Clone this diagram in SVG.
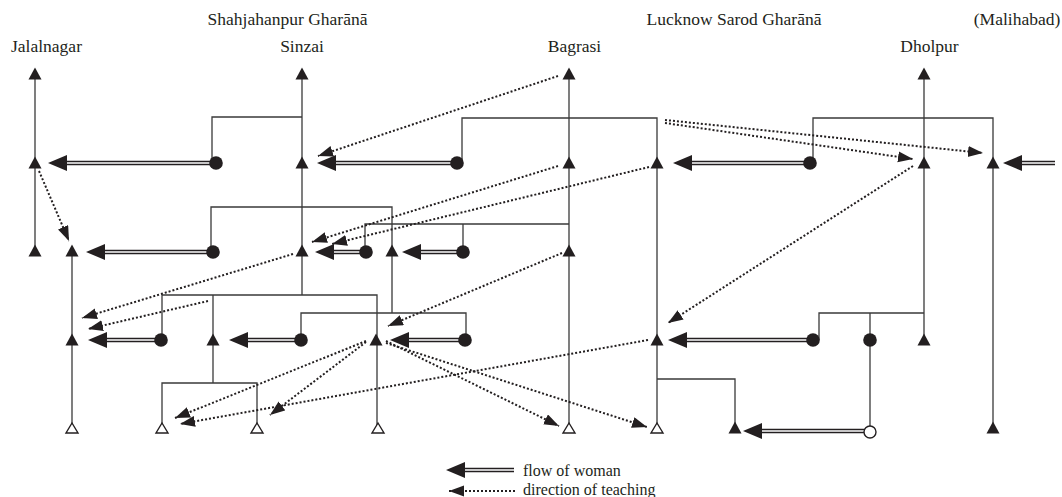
<svg xmlns="http://www.w3.org/2000/svg" width="1062" height="497" viewBox="0 0 1062 497">
<style>
.ln{stroke:#3a3a3a;stroke-width:1.3;fill:none}
.dt{stroke:#231f20;stroke-width:2;stroke-dasharray:2 2;fill:none;marker-end:url(#ah)}
.dbo{stroke:#231f20;stroke-width:4.4;fill:none}
.dbi{stroke:#fff;stroke-width:1.5;fill:none}
.f{fill:#231f20}
.o{fill:#fff;stroke:#231f20;stroke-width:1.4}
text{font-family:"Liberation Serif","Times New Roman",serif;fill:#231f20}
.h{font-size:17.5px;text-anchor:middle}
.lg{font-size:16px}
</style>
<defs>
<marker id="ah" markerUnits="userSpaceOnUse" markerWidth="16" markerHeight="12" viewBox="0 0 16 12" refX="15" refY="5.5" orient="auto"><path d="M0,0 L15,5.5 L0,11 z" fill="#231f20"/></marker>
<path id="tri" d="M0,-6.5 L6.5,5.5 L-6.5,5.5 z"/>
<path id="otri" d="M0,-5 L6,5 L-6,5 z"/>
<path id="head" d="M0,0 L19,-8 L19,8 z"/>
</defs>
<g id="labels">
<text class="h" x="287.5" y="25">Shahjahanpur Gharānā</text>
<text class="h" x="734" y="25">Lucknow Sarod Gharānā</text>
<text class="h" x="1017" y="25">(Malihabad)</text>
<text class="h" x="46.5" y="52">Jalalnagar</text>
<text class="h" x="302" y="52">Sinzai</text>
<text class="h" x="574.5" y="52">Bagrasi</text>
<text class="h" x="929.5" y="52">Dholpur</text>
</g>
<g id="connectors">
<g id="descent">
<path class="ln" d="M35,74 V251"/>
<path class="ln" d="M72,251 V428"/>
<path class="ln" d="M302,74 V295"/>
<path class="ln" d="M212,163 V117 H302"/>
<path class="ln" d="M211,252 V207 H392 V313"/>
<path class="ln" d="M162,340 V295 H377 V428"/>
<path class="ln" d="M213,295 V383"/>
<path class="ln" d="M162,428 V383 H257 V428"/>
<path class="ln" d="M301,340 V313 H466 V340"/>
<path class="ln" d="M569,74 V428"/>
<path class="ln" d="M462,163 V118 H657 V428"/>
<path class="ln" d="M365,252 V224 H569"/>
<path class="ln" d="M463,252 V224"/>
<path class="ln" d="M657,379 H735 V428"/>
<path class="ln" d="M924,74 V340"/>
<path class="ln" d="M813,163 V118 H993 V428"/>
<path class="ln" d="M819,340 V313 H924"/>
<path class="ln" d="M870,313 V432"/>
</g>
<g id="woman-flow">
<path class="dbo" d="M66,163 H216"/><path class="dbi" d="M67,163 H216"/><use href="#head" x="48" y="163" class="f"/>
<path class="dbo" d="M335,163 H457"/><path class="dbi" d="M336,163 H457"/><use href="#head" x="317" y="163" class="f"/>
<path class="dbo" d="M691,163 H810"/><path class="dbi" d="M692,163 H810"/><use href="#head" x="673" y="163" class="f"/>
<path class="dbo" d="M1021,163 H1055"/><path class="dbi" d="M1022,163 H1055"/><use href="#head" x="1003" y="163" class="f"/>
<path class="dbo" d="M104,252 H213"/><path class="dbi" d="M105,252 H213"/><use href="#head" x="86" y="252" class="f"/>
<path class="dbo" d="M333,252 H366"/><path class="dbi" d="M334,252 H366"/><use href="#head" x="315" y="252" class="f"/>
<path class="dbo" d="M420,252 H463"/><path class="dbi" d="M421,252 H463"/><use href="#head" x="402" y="252" class="f"/>
<path class="dbo" d="M106,340 H161"/><path class="dbi" d="M107,340 H161"/><use href="#head" x="88" y="340" class="f"/>
<path class="dbo" d="M247,340 H301"/><path class="dbi" d="M248,340 H301"/><use href="#head" x="229" y="340" class="f"/>
<path class="dbo" d="M408,340 H465"/><path class="dbi" d="M409,340 H465"/><use href="#head" x="390" y="340" class="f"/>
<path class="dbo" d="M686,340 H813"/><path class="dbi" d="M687,340 H813"/><use href="#head" x="668" y="340" class="f"/>
<path class="dbo" d="M761,431 H870"/><path class="dbi" d="M762,431 H870"/><use href="#head" x="743" y="431" class="f"/>
</g>
<g id="teaching">
<path class="dt" d="M558,76 L318,156"/>
<path class="dt" d="M39,171 L69,241"/>
<path class="dt" d="M558,166 L312,242"/>
<path class="dt" d="M649,167 L332,244"/>
<path class="dt" d="M665,120 L983,153"/>
<path class="dt" d="M665,123 L913,159"/>
<path class="dt" d="M913,166 L668,323"/>
<path class="dt" d="M293,254 L82,318"/>
<path class="dt" d="M208,301 L88,329"/>
<path class="dt" d="M562,253 L388,326"/>
<path class="dt" d="M366,341 L175,418"/>
<path class="dt" d="M366,342 L270,415"/>
<path class="dt" d="M386,341 L559,426"/>
<path class="dt" d="M386,343 L647,427"/>
<path class="dt" d="M648,340 L180,424"/>
</g>
</g>
<g id="nodes">
<g id="jal-0"><use href="#tri" x="35" y="74" class="f"/></g>
<g id="jal-1"><use href="#tri" x="35" y="163" class="f"/></g>
<g id="jal-2"><use href="#tri" x="35" y="251" class="f"/></g>
<g id="jalb-2"><use href="#tri" x="72" y="251" class="f"/></g>
<g id="jalb-3"><use href="#tri" x="72" y="340" class="f"/></g>
<g id="jalb-4"><use href="#otri" x="72" y="428" class="o"/></g>
<g id="sin-0"><use href="#tri" x="302" y="74" class="f"/></g>
<g id="sin-1"><use href="#tri" x="302" y="163" class="f"/></g>
<g id="sin-2"><use href="#tri" x="302" y="251" class="f"/></g>
<g id="sin-2b"><use href="#tri" x="392" y="251" class="f"/></g>
<g id="sin-3a"><use href="#tri" x="213" y="340" class="f"/></g>
<g id="sin-3b"><use href="#tri" x="376" y="340" class="f"/></g>
<g id="sin-4a"><use href="#otri" x="162" y="428" class="o"/></g>
<g id="sin-4b"><use href="#otri" x="257" y="428" class="o"/></g>
<g id="sin-4c"><use href="#otri" x="378" y="428" class="o"/></g>
<g id="bag-0"><use href="#tri" x="569" y="74" class="f"/></g>
<g id="bag-1"><use href="#tri" x="569" y="163" class="f"/></g>
<g id="bag-2"><use href="#tri" x="569" y="251" class="f"/></g>
<g id="bag-4"><use href="#otri" x="569" y="428" class="o"/></g>
<g id="luc-1"><use href="#tri" x="657" y="163" class="f"/></g>
<g id="luc-3"><use href="#tri" x="657" y="340" class="f"/></g>
<g id="luc-4"><use href="#otri" x="657" y="428" class="o"/></g>
<g id="luc-4b"><use href="#tri" x="735" y="428" class="f"/></g>
<g id="dho-0"><use href="#tri" x="924" y="74" class="f"/></g>
<g id="dho-1"><use href="#tri" x="924" y="163" class="f"/></g>
<g id="dho-3"><use href="#tri" x="924" y="340" class="f"/></g>
<g id="mal-1"><use href="#tri" x="993" y="163" class="f"/></g>
<g id="mal-4"><use href="#tri" x="993" y="428" class="f"/></g>
<g id="w-1a"><circle cx="216" cy="163" r="6.8" class="f"/></g>
<g id="w-1b"><circle cx="457" cy="163" r="6.8" class="f"/></g>
<g id="w-1c"><circle cx="810" cy="163" r="6.8" class="f"/></g>
<g id="w-2a"><circle cx="213" cy="252" r="6.8" class="f"/></g>
<g id="w-2b"><circle cx="366" cy="252" r="6.8" class="f"/></g>
<g id="w-2c"><circle cx="463" cy="252" r="6.8" class="f"/></g>
<g id="w-3a"><circle cx="161" cy="340" r="6.8" class="f"/></g>
<g id="w-3b"><circle cx="301" cy="340" r="6.8" class="f"/></g>
<g id="w-3c"><circle cx="465" cy="340" r="6.8" class="f"/></g>
<g id="w-3d"><circle cx="813" cy="340" r="6.8" class="f"/></g>
<g id="w-3e"><circle cx="870" cy="340" r="6.8" class="f"/></g>
<g id="w-4"><circle cx="870" cy="432" r="6" class="o"/></g>
</g>
<g id="legend">
<path class="dbo" d="M464,470 H514"/><path class="dbi" d="M465,470 H514"/><use href="#head" x="446" y="470" class="f"/>
<path class="dt" d="M515,491 L449,491"/>
<text class="lg" x="523" y="476">flow of woman</text>
<text class="lg" x="523" y="495">direction of teaching</text>
</g>
</svg>
